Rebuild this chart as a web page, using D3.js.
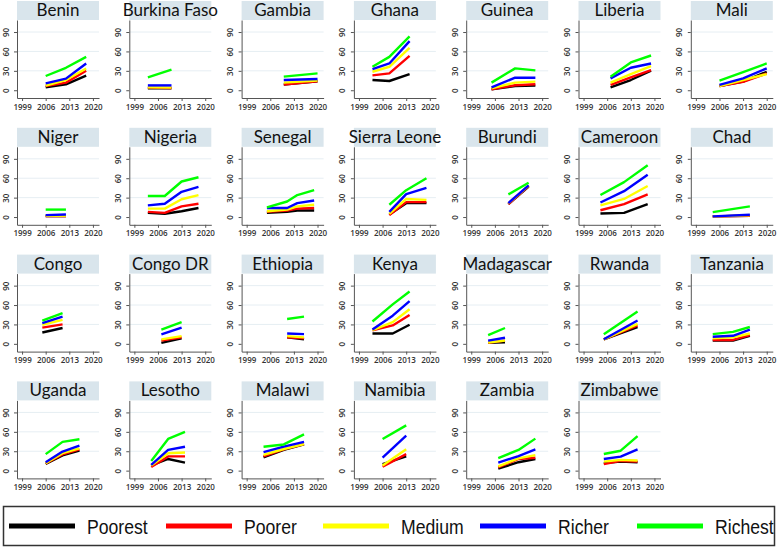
<!DOCTYPE html>
<html>
<head>
<meta charset="utf-8">
<script src="https://cdn.jsdelivr.net/npm/d3@7"></script>
<style>
  body { margin: 0; background: #fff; }
  svg { display: block; }
  .title { font-family: Lato, "Open Sans", sans-serif; font-size: 17px; fill: #111; }
  .axis text { font-family: "Open Sans", sans-serif; font-size: 8px; font-weight: 600; fill: #333; }
  .axis path, .axis line { stroke: #555; }
  .legend text { font-family: "Liberation Sans", Arial, sans-serif; font-size: 21px; fill: #111; }
</style>
</head>
<body>
<div id="chart"></div>
<script>
var width = 778,
    height = 547;

// countries in panel order
var countries = ["Benin", "Burkina Faso", "Gambia", "Ghana", "Guinea", "Liberia", "Mali",
  "Niger", "Nigeria", "Senegal", "Sierra Leone", "Burundi", "Cameroon", "Chad",
  "Congo", "Congo DR", "Ethiopia", "Kenya", "Madagascar", "Rwanda", "Tanzania",
  "Uganda", "Lesotho", "Malawi", "Namibia", "Zambia", "Zimbabwe"];

// survey years for each country
var years = [
  [2006, 2012, 2018], [2003, 2010], [2010, 2020], [2003, 2008, 2014], [2005, 2012, 2018], [2007, 2013, 2019], [2006, 2013, 2020],
  [2006, 2012], [2003, 2008, 2013, 2018], [2005, 2011, 2014, 2019], [2008, 2013, 2019], [2010, 2016], [2004, 2011, 2018], [2004, 2015],
  [2005, 2011], [2007, 2013], [2011, 2016], [2003, 2009, 2014], [2004, 2009], [2005, 2015], [2004, 2010, 2015],
  [2006, 2011, 2016], [2004, 2009, 2014], [2004, 2010, 2016], [2006, 2013], [2007, 2013, 2018], [2005, 2010, 2015]
];

var poorest = [
  [4.6, 9.2, 22.5], [3, 3], [8.7, 13.8], [15.8, 14.3, 25], [1.5, 6.6, 7.2], [4.6, 15.8, 30.2], [6.6, 13.3, 28.6],
  [1.5, 1.5], [6.5, 5, 9, 14], [6.5, 8, 10, 10], [4, 21.5, 21.5], [20, 47], [5.5, 6.5, 20], [1, 2],
  [17.5, 24.5], [1.5, 8.5], [10, 7], [16, 16, 29.5], [1.5, 2.5], [7, 26], [5, 5, 12.5],
  [10.5, 23.5, 31], [8, 18, 12.5], [20.5, 32, 40.5], [10, 22], [3, 13, 18], [11.6, 14, 13]
];
var poorer = [
  [6.6, 11.8, 30], [4, 3.5], [8.7, 13.8], [23, 26, 53], [1.5, 7.7, 9.2], [8.2, 20, 31.2], [6.6, 13, 26],
  [1.5, 1.5], [8, 6.5, 16.5, 20.5], [8, 10, 13, 14], [3, 23, 23], [20, 48], [10.5, 20, 35], [1, 2],
  [25, 30], [5, 10], [10, 8.5], [21, 28.5, 44.5], [1.5, 5], [7, 28.5], [6, 6, 13.5],
  [11, 25, 33], [5.5, 22, 22], [22, 33, 41], [6, 25.5], [5, 18, 20], [10, 15, 14]
];
var medium = [
  [7, 15.8, 33.7], [4.5, 4], [11.8, 14.8], [28.6, 36.3, 65.4], [3, 11.8, 13.3], [11.8, 25, 37.3], [6.6, 15.8, 25],
  [2, 2], [13, 13, 27.5, 34], [9, 11.5, 16.5, 19], [5, 28, 26.5], [21, 48.5], [18, 28, 48], [1, 2.5],
  [29.5, 37], [7, 12], [12, 10], [21, 33.5, 53.5], [2, 5], [7, 31], [8.5, 10, 16],
  [11.5, 27, 34.5], [8, 27, 28], [24.5, 33.5, 41], [8, 33], [6.5, 19, 24], [14, 16.6, 15.6]
];
var richer = [
  [10.7, 17.9, 41.4], [7.5, 7.5], [15.8, 17.4], [32.7, 41.4, 76], [4.6, 19.4, 19.4], [18.4, 34.8, 41.4], [8.2, 18.4, 33.8],
  [3, 4], [18, 20.5, 39, 46.5], [14, 14, 21.5, 25.5], [8, 35.5, 45], [21.5, 49], [22.5, 40, 65.5], [1, 3.5],
  [32, 42], [14.5, 25], [16, 15], [22, 43.5, 66], [5, 9.5], [7, 36], [11, 12.5, 22],
  [13, 29.5, 38.5], [9, 32, 37], [28.5, 37, 44.5], [20, 54], [12.5, 22.5, 33], [18, 21.7, 32.8]
];
var richest = [
  [22, 34.7, 51.6], [20, 32], [21, 26], [36.3, 51.6, 83.3], [11.8, 33.8, 30.7], [21, 43, 53.7], [14.8, 28, 41.4],
  [11.5, 11.5], [32.5, 32.5, 55, 61.5], [15, 24, 34, 41.5], [19, 41.5, 60], [35, 53], [34, 54, 80], [7.5, 16.5],
  [36, 47.5], [22, 33.5], [38.5, 42], [34.5, 61, 81], [13.5, 24.5], [15, 50], [15, 18.5, 26],
  [25.5, 44.5, 48.5], [15, 49, 60], [37, 40.5, 56], [49, 70], [19.5, 32, 49.5], [25.7, 30.8, 53.5]
];

var groups = ["Poorest", "Poorer", "Medium", "Richer", "Richest"];
var groupColors = ["#000000", "#ff0000", "#ffff00", "#0000ff", "#00ff00"];
var series = [poorest, poorer, medium, richer, richest];

var xTicks = [1999, 2006, 2013, 2020];
var yTicks = [0, 30, 60, 90];

// panel layout
var nCols = 7,
    colStep = 112.3,
    rowStep = 126.8,
    left0 = 17,
    top0 = 1,
    titleH = 19,
    plotW = 82,
    plotH = 78;

var x = d3.scaleLinear().domain([1997.5, 2021.8]).range([0, plotW]);
var y = d3.scaleLinear().domain([-12, 108.6]).range([plotH, 0]);

var line = d3.line()
  .x(function(d) { return x(d[0]); })
  .y(function(d) { return y(d[1]); });

var svg = d3.select("#chart").append("svg")
  .attr("width", width)
  .attr("height", height);

countries.forEach(function(name, i) {
  var col = i % nCols,
      row = Math.floor(i / nCols);

  var panel = svg.append("g")
    .attr("transform", "translate(" + (left0 + col * colStep) + "," + (top0 + row * rowStep) + ")");

  // title strip
  panel.append("rect")
    .attr("width", plotW)
    .attr("height", titleH)
    .attr("fill", "#d9e5ec");
  panel.append("text")
    .attr("class", "title")
    .attr("x", plotW / 2)
    .attr("y", 15)
    .attr("text-anchor", "middle")
    .text(name);

  var g = panel.append("g").attr("transform", "translate(0," + titleH + ")");

  // faint gridlines
  g.selectAll(".grid")
    .data(yTicks.filter(function(t) { return t > 0; }))
    .enter().append("line")
      .attr("x1", 0)
      .attr("x2", plotW)
      .attr("y1", function(d) { return y(d); })
      .attr("y2", function(d) { return y(d); })
      .attr("stroke", "#e6eef3")
      .attr("stroke-width", 1);

  var yAxis = g.append("g")
    .attr("class", "axis")
    .call(d3.axisLeft(y).tickValues(yTicks).tickSize(3).tickSizeOuter(0));
  yAxis.selectAll("text")
    .attr("transform", "rotate(-90)")
    .attr("x", 0)
    .attr("y", -8.5)
    .attr("dy", 0)
    .attr("text-anchor", "middle");

  g.append("g")
    .attr("class", "axis")
    .attr("transform", "translate(0," + plotH + ")")
    .call(d3.axisBottom(x).tickValues(xTicks).tickFormat(d3.format("d")).tickSize(3).tickSizeOuter(0))
    .selectAll("text")
      .attr("y", 6);

  // one line per wealth group
  series.forEach(function(vals, k) {
    var pts = years[i].map(function(yr, j) { return [yr, vals[i][j]]; });
    g.append("path")
      .datum(pts)
      .attr("d", line)
      .attr("fill", "none")
      .attr("stroke", groupColors[k])
      .attr("stroke-width", 2.4)
      .attr("stroke-linejoin", "round");
  });
});

// legend
var legend = svg.append("g").attr("class", "legend");
legend.append("rect")
  .attr("x", 3.5)
  .attr("y", 506.5)
  .attr("width", 771)
  .attr("height", 39)
  .attr("fill", "none")
  .attr("stroke", "#333")
  .attr("stroke-width", 1.5);

var lx = d3.scaleLinear().domain([0, 1]).range([9, 166]);
var item = legend.selectAll(".item")
  .data(groups)
  .enter().append("g")
    .attr("transform", function(d, i) { return "translate(" + lx(i) + ",526)"; });
item.append("line")
  .attr("x1", 0)
  .attr("x2", 66)
  .attr("stroke", function(d, i) { return groupColors[i]; })
  .attr("stroke-width", 5);
// narrow the legend labels horizontally, like a condensed face
item.append("text")
  .attr("transform", "translate(78,8) scale(0.84,1)")
  .text(function(d) { return d; });
</script>
</body>
</html>
